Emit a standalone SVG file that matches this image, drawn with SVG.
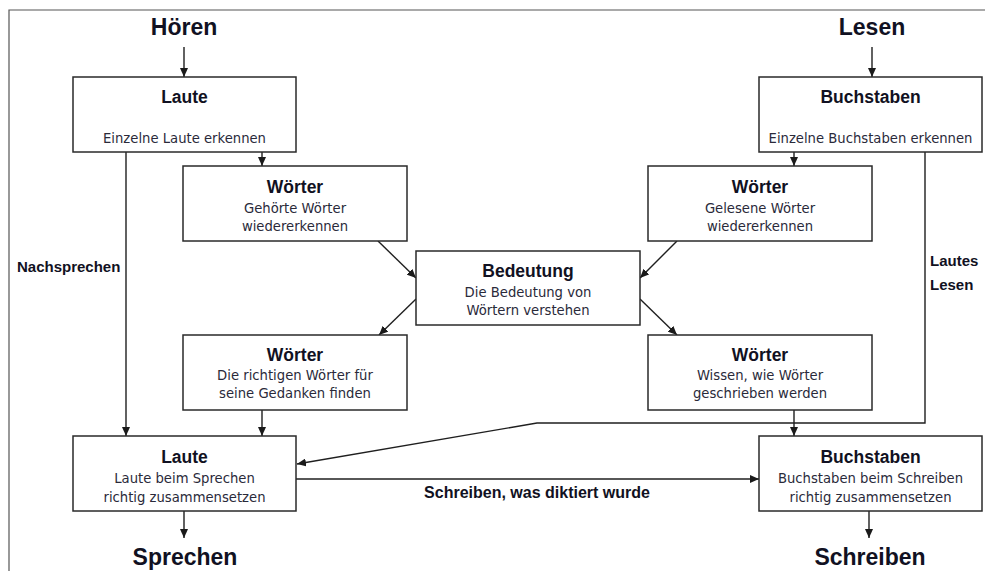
<svg xmlns="http://www.w3.org/2000/svg" width="985" height="571" viewBox="0 0 985 571">
<defs>
<marker id="ah" markerUnits="userSpaceOnUse" markerWidth="10" markerHeight="8" refX="9" refY="4" orient="auto">
<path d="M0,0 L9,4 L0,8 Z" fill="#1a1a1a"/>
</marker>
<style>
.box{fill:#fff;stroke:#2a2a2a;stroke-width:1.5}
.t{font-family:"Liberation Sans",Arial,sans-serif;font-weight:bold;font-size:17.5px;fill:#111122;text-anchor:middle}
.s{font-family:"DejaVu Sans",Verdana,sans-serif;font-size:13.2px;fill:#2a2a3a;text-anchor:middle}
.big{font-family:"Liberation Sans",Arial,sans-serif;font-weight:bold;font-size:23px;fill:#111122;text-anchor:middle}
.lbl{font-family:"Liberation Sans",Arial,sans-serif;font-weight:bold;font-size:15px;fill:#111122}
.c{fill:none;stroke:#1f1f1f;stroke-width:1.4}
</style>
</defs>
<rect width="985" height="571" fill="#fff"/>
<path d="M9,571 V10 H985" fill="none" stroke="#555" stroke-width="1.2"/>

<g id="connectors">
<path class="c" d="M184,47 V77" marker-end="url(#ah)"/>
<path class="c" d="M872,47 V77" marker-end="url(#ah)"/>
<path class="c" d="M262,152 V166" marker-end="url(#ah)"/>
<path class="c" d="M794,152 V166" marker-end="url(#ah)"/>
<path class="c" d="M126,152 V436" marker-end="url(#ah)"/>
<path class="c" d="M378,241 L416,278" marker-end="url(#ah)"/>
<path class="c" d="M677,241 L640,278" marker-end="url(#ah)"/>
<path class="c" d="M416,299 L379,335" marker-end="url(#ah)"/>
<path class="c" d="M640,299 L677,335" marker-end="url(#ah)"/>
<path class="c" d="M262,410 V436" marker-end="url(#ah)"/>
<path class="c" d="M794,410 V436" marker-end="url(#ah)"/>
<path class="c" d="M925,152 V423 H537 L297,464" marker-end="url(#ah)"/>
<path class="c" d="M296,479 H759" marker-end="url(#ah)"/>
<path class="c" d="M184,511 V538" marker-end="url(#ah)"/>
<path class="c" d="M869,511 V538" marker-end="url(#ah)"/>
<text class="lbl" x="17" y="272">Nachsprechen</text>
<text class="lbl" x="930" y="266">Lautes</text>
<text class="lbl" x="930" y="290">Lesen</text>
<text class="lbl" x="537" y="498" text-anchor="middle" style="font-size:16px">Schreiben, was diktiert wurde</text>
</g>

<g id="hoeren"><text class="big" x="184" y="35">Hören</text></g>
<g id="lesen"><text class="big" x="872" y="35">Lesen</text></g>
<g id="sprechen"><text class="big" x="185" y="565">Sprechen</text></g>
<g id="schreiben"><text class="big" x="870" y="565">Schreiben</text></g>

<g id="laute-oben">
<rect class="box" x="73" y="77" width="223" height="75"/>
<text class="t" x="184.5" y="103">Laute</text>
<text class="s" x="184.5" y="143">Einzelne Laute erkennen</text>
</g>
<g id="buchstaben-oben">
<rect class="box" x="759" y="77" width="223" height="75"/>
<text class="t" x="870.5" y="103">Buchstaben</text>
<text class="s" x="870.5" y="143">Einzelne Buchstaben erkennen</text>
</g>
<g id="woerter-gehoert">
<rect class="box" x="183" y="166" width="224" height="75"/>
<text class="t" x="295" y="193">Wörter</text>
<text class="s" x="295" y="213">Gehörte Wörter</text>
<text class="s" x="295" y="231">wiedererkennen</text>
</g>
<g id="woerter-gelesen">
<rect class="box" x="648" y="166" width="224" height="75"/>
<text class="t" x="760" y="193">Wörter</text>
<text class="s" x="760" y="213">Gelesene Wörter</text>
<text class="s" x="760" y="231">wiedererkennen</text>
</g>
<g id="bedeutung">
<rect class="box" x="416" y="251" width="224" height="74"/>
<text class="t" x="528" y="277">Bedeutung</text>
<text class="s" x="528" y="297">Die Bedeutung von</text>
<text class="s" x="528" y="315">Wörtern verstehen</text>
</g>
<g id="woerter-finden">
<rect class="box" x="183" y="335" width="224" height="75"/>
<text class="t" x="295" y="361">Wörter</text>
<text class="s" x="295" y="380">Die richtigen Wörter für</text>
<text class="s" x="295" y="398">seine Gedanken finden</text>
</g>
<g id="woerter-schreiben">
<rect class="box" x="648" y="335" width="224" height="75"/>
<text class="t" x="760" y="361">Wörter</text>
<text class="s" x="760" y="380">Wissen, wie Wörter</text>
<text class="s" x="760" y="398">geschrieben werden</text>
</g>
<g id="laute-unten">
<rect class="box" x="73" y="436" width="223" height="75"/>
<text class="t" x="184.5" y="463">Laute</text>
<text class="s" x="184.5" y="483">Laute beim Sprechen</text>
<text class="s" x="184.5" y="502">richtig zusammensetzen</text>
</g>
<g id="buchstaben-unten">
<rect class="box" x="759" y="436" width="223" height="75"/>
<text class="t" x="870.5" y="463">Buchstaben</text>
<text class="s" x="870.5" y="483">Buchstaben beim Schreiben</text>
<text class="s" x="870.5" y="502">richtig zusammensetzen</text>
</g>
</svg>
